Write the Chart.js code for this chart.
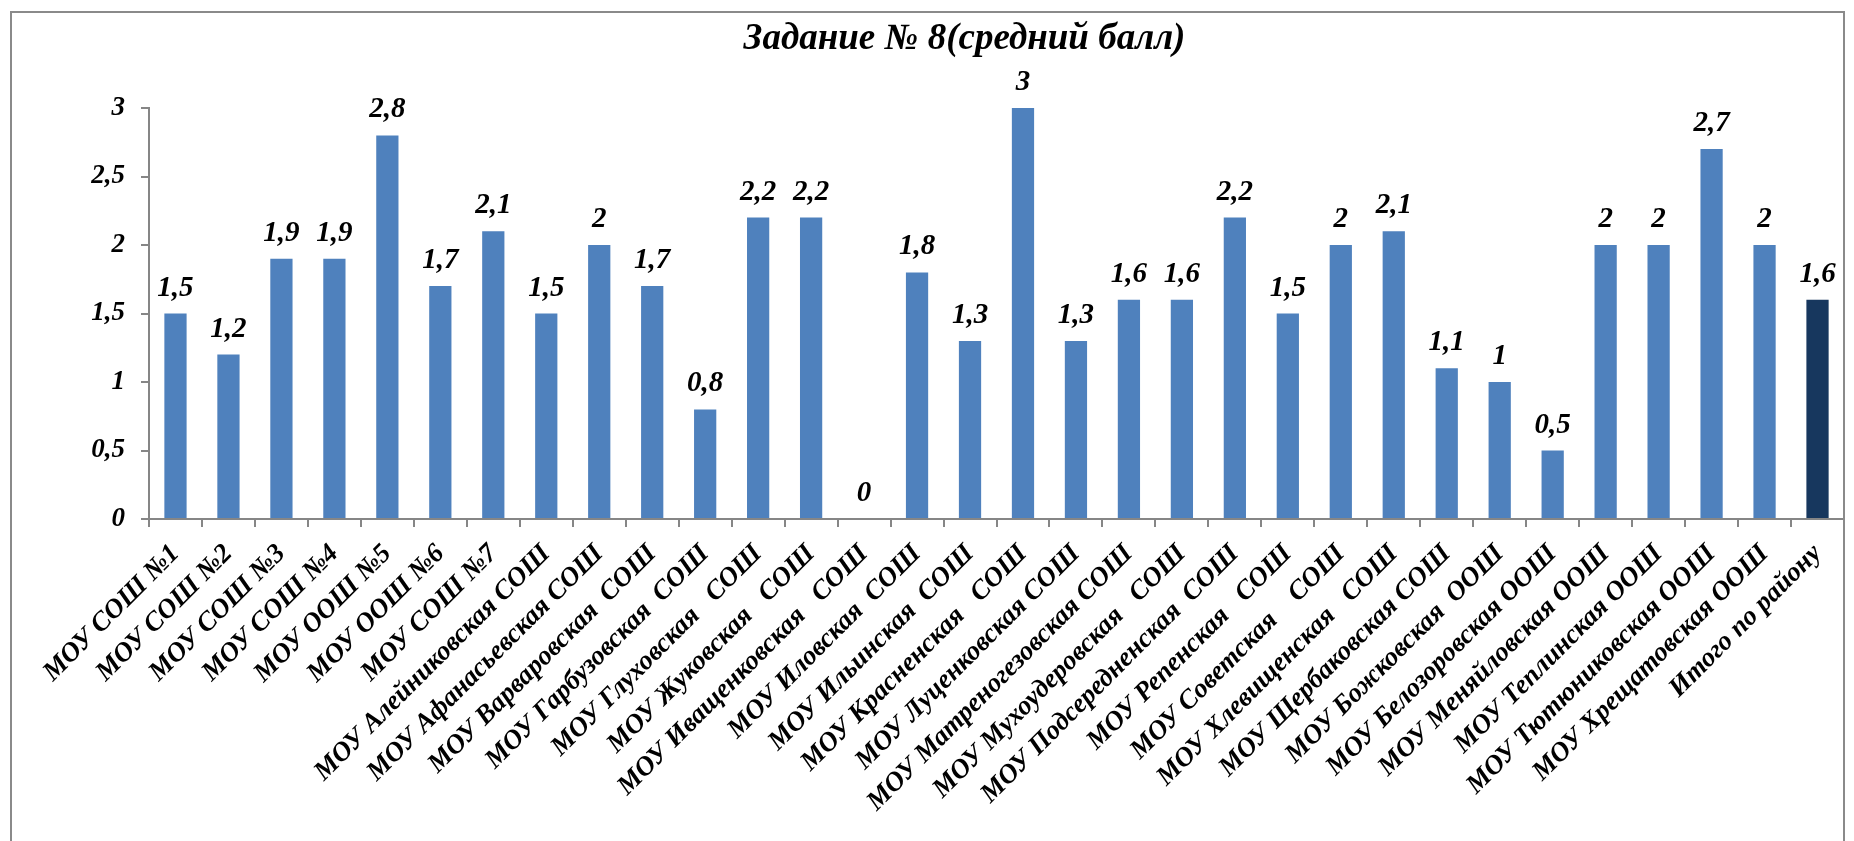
<!DOCTYPE html>
<html lang="ru">
<head>
<meta charset="utf-8">
<title>Задание № 8</title>
<script src="https://cdn.jsdelivr.net/npm/chart.js@4.4.1/dist/chart.umd.min.js"></script>
<style>
  html, body { margin: 0; padding: 0; background: #fff; overflow: hidden; }
  #wrap { position: relative; width: 1854px; height: 841px; }
  #frame {
    position: absolute; left: 10px; top: 11px; width: 1835px; height: 900px;
    border: 2px solid #8a8a8a; box-sizing: border-box; pointer-events: none;
  }
  canvas { position: absolute; left: 0; top: 0; }
</style>
</head>
<body>
<div id="wrap">
  <canvas id="chart" width="1854" height="841"></canvas>
  <div id="frame"></div>
</div>
<script>
// —— data ——
const chartTitle = 'Задание № 8(средний балл)';
const schools = [
  'МОУ СОШ №1', 'МОУ СОШ №2', 'МОУ СОШ №3', 'МОУ СОШ №4',
  'МОУ ООШ №5', 'МОУ ООШ №6', 'МОУ СОШ №7',
  'МОУ Алейниковская СОШ', 'МОУ Афанасьевская СОШ', 'МОУ Варваровская  СОШ',
  'МОУ Гарбузовская  СОШ', 'МОУ Глуховская   СОШ', 'МОУ Жуковская   СОШ',
  'МОУ Иващенковская   СОШ', 'МОУ Иловская  СОШ', 'МОУ Ильинская  СОШ',
  'МОУ Красненская   СОШ', 'МОУ Луценковская СОШ', 'МОУ Матреногезовская СОШ',
  'МОУ Мухоудеровская   СОШ', 'МОУ Подсередненская  СОШ', 'МОУ Репенская   СОШ',
  'МОУ Советская    СОШ', 'МОУ Хлевищенская   СОШ', 'МОУ Щербаковская СОШ',
  'МОУ Божковская  ООШ', 'МОУ Белозоровская ООШ', 'МОУ Меняйловская ООШ',
  'МОУ Теплинская ООШ', 'МОУ Тютюниковская ООШ', 'МОУ Хрещатовская ООШ',
  'Итого по району'
];
const avgScore = [
  1.5, 1.2, 1.9, 1.9, 2.8, 1.7, 2.1, 1.5, 2, 1.7, 0.8, 2.2, 2.2, 0, 1.8, 1.3,
  3, 1.3, 1.6, 1.6, 2.2, 1.5, 2, 2.1, 1.1, 1, 0.5, 2, 2, 2.7, 2, 1.6
];
const yTicks = [0, 0.5, 1, 1.5, 2, 2.5, 3];

const FONT = "'Liberation Serif', 'Times New Roman', serif";
const BLUE = '#4f81bd';
const NAVY = '#17375e';
const AXIS = '#868686';

const comma = v => String(v).replace('.', ',');

// bar colours: district total is dark
const barColors = schools.map(s => s.startsWith('Итого') ? NAVY : BLUE);

// value labels above bars + title (sits a bit right of canvas centre, like the original)
const valueLabels = {
  id: 'valueLabels',
  afterDatasetsDraw(chart) {
    const ctx = chart.ctx;
    const meta = chart.getDatasetMeta(0);
    const area = chart.chartArea;
    ctx.save();
    ctx.fillStyle = '#000';
    ctx.textAlign = 'center';
    ctx.textBaseline = 'alphabetic';

    ctx.font = 'italic bold 37px ' + FONT;
    ctx.fillText(chartTitle, (area.left + area.right) / 2 - 32, 49);

    ctx.font = 'italic bold 29px ' + FONT;
    meta.data.forEach((bar, i) => {
      ctx.fillText(comma(avgScore[i]), bar.x, bar.y - 18);
    });
    ctx.restore();
  }
};

const ctx = document.getElementById('chart').getContext('2d');
new Chart(ctx, {
  type: 'bar',
  data: {
    labels: schools,
    datasets: [{
      label: 'Средний балл',
      data: avgScore,
      backgroundColor: barColors,
      borderWidth: 0,
      categoryPercentage: 1,
      barPercentage: 0.42
    }]
  },
  options: {
    responsive: false,
    animation: false,
    layout: { padding: { left: 0, right: 10, top: 108, bottom: 0 } },
    plugins: {
      legend: { display: false },
      tooltip: { enabled: false },
      title: { display: false }
    },
    scales: {
      x: {
        offset: true,
        grid: {
          display: true, offset: true, drawOnChartArea: false,
          tickLength: 8, color: AXIS, lineWidth: 2
        },
        border: { color: AXIS, width: 2 },
        ticks: {
          autoSkip: false, minRotation: 45, maxRotation: 45,
          color: '#000', padding: 11,
          font: { family: FONT, size: 27, style: 'italic', weight: 'bold' }
        },
        afterFit(scale) { scale.height = 322; }
      },
      y: {
        min: 0, max: 3,
        afterBuildTicks(scale) { scale.ticks = yTicks.map(v => ({ value: v })); },
        grid: {
          display: true, drawOnChartArea: false,
          tickLength: 8, color: AXIS, lineWidth: 2
        },
        border: { color: AXIS, width: 2 },
        ticks: {
          color: '#000', padding: 16,
          callback: v => comma(v),
          font: { family: FONT, size: 27, style: 'italic', weight: 'bold' }
        },
        afterFit(scale) { scale.width = 149; }
      }
    }
  },
  plugins: [valueLabels]
});
</script>
</body>
</html>
